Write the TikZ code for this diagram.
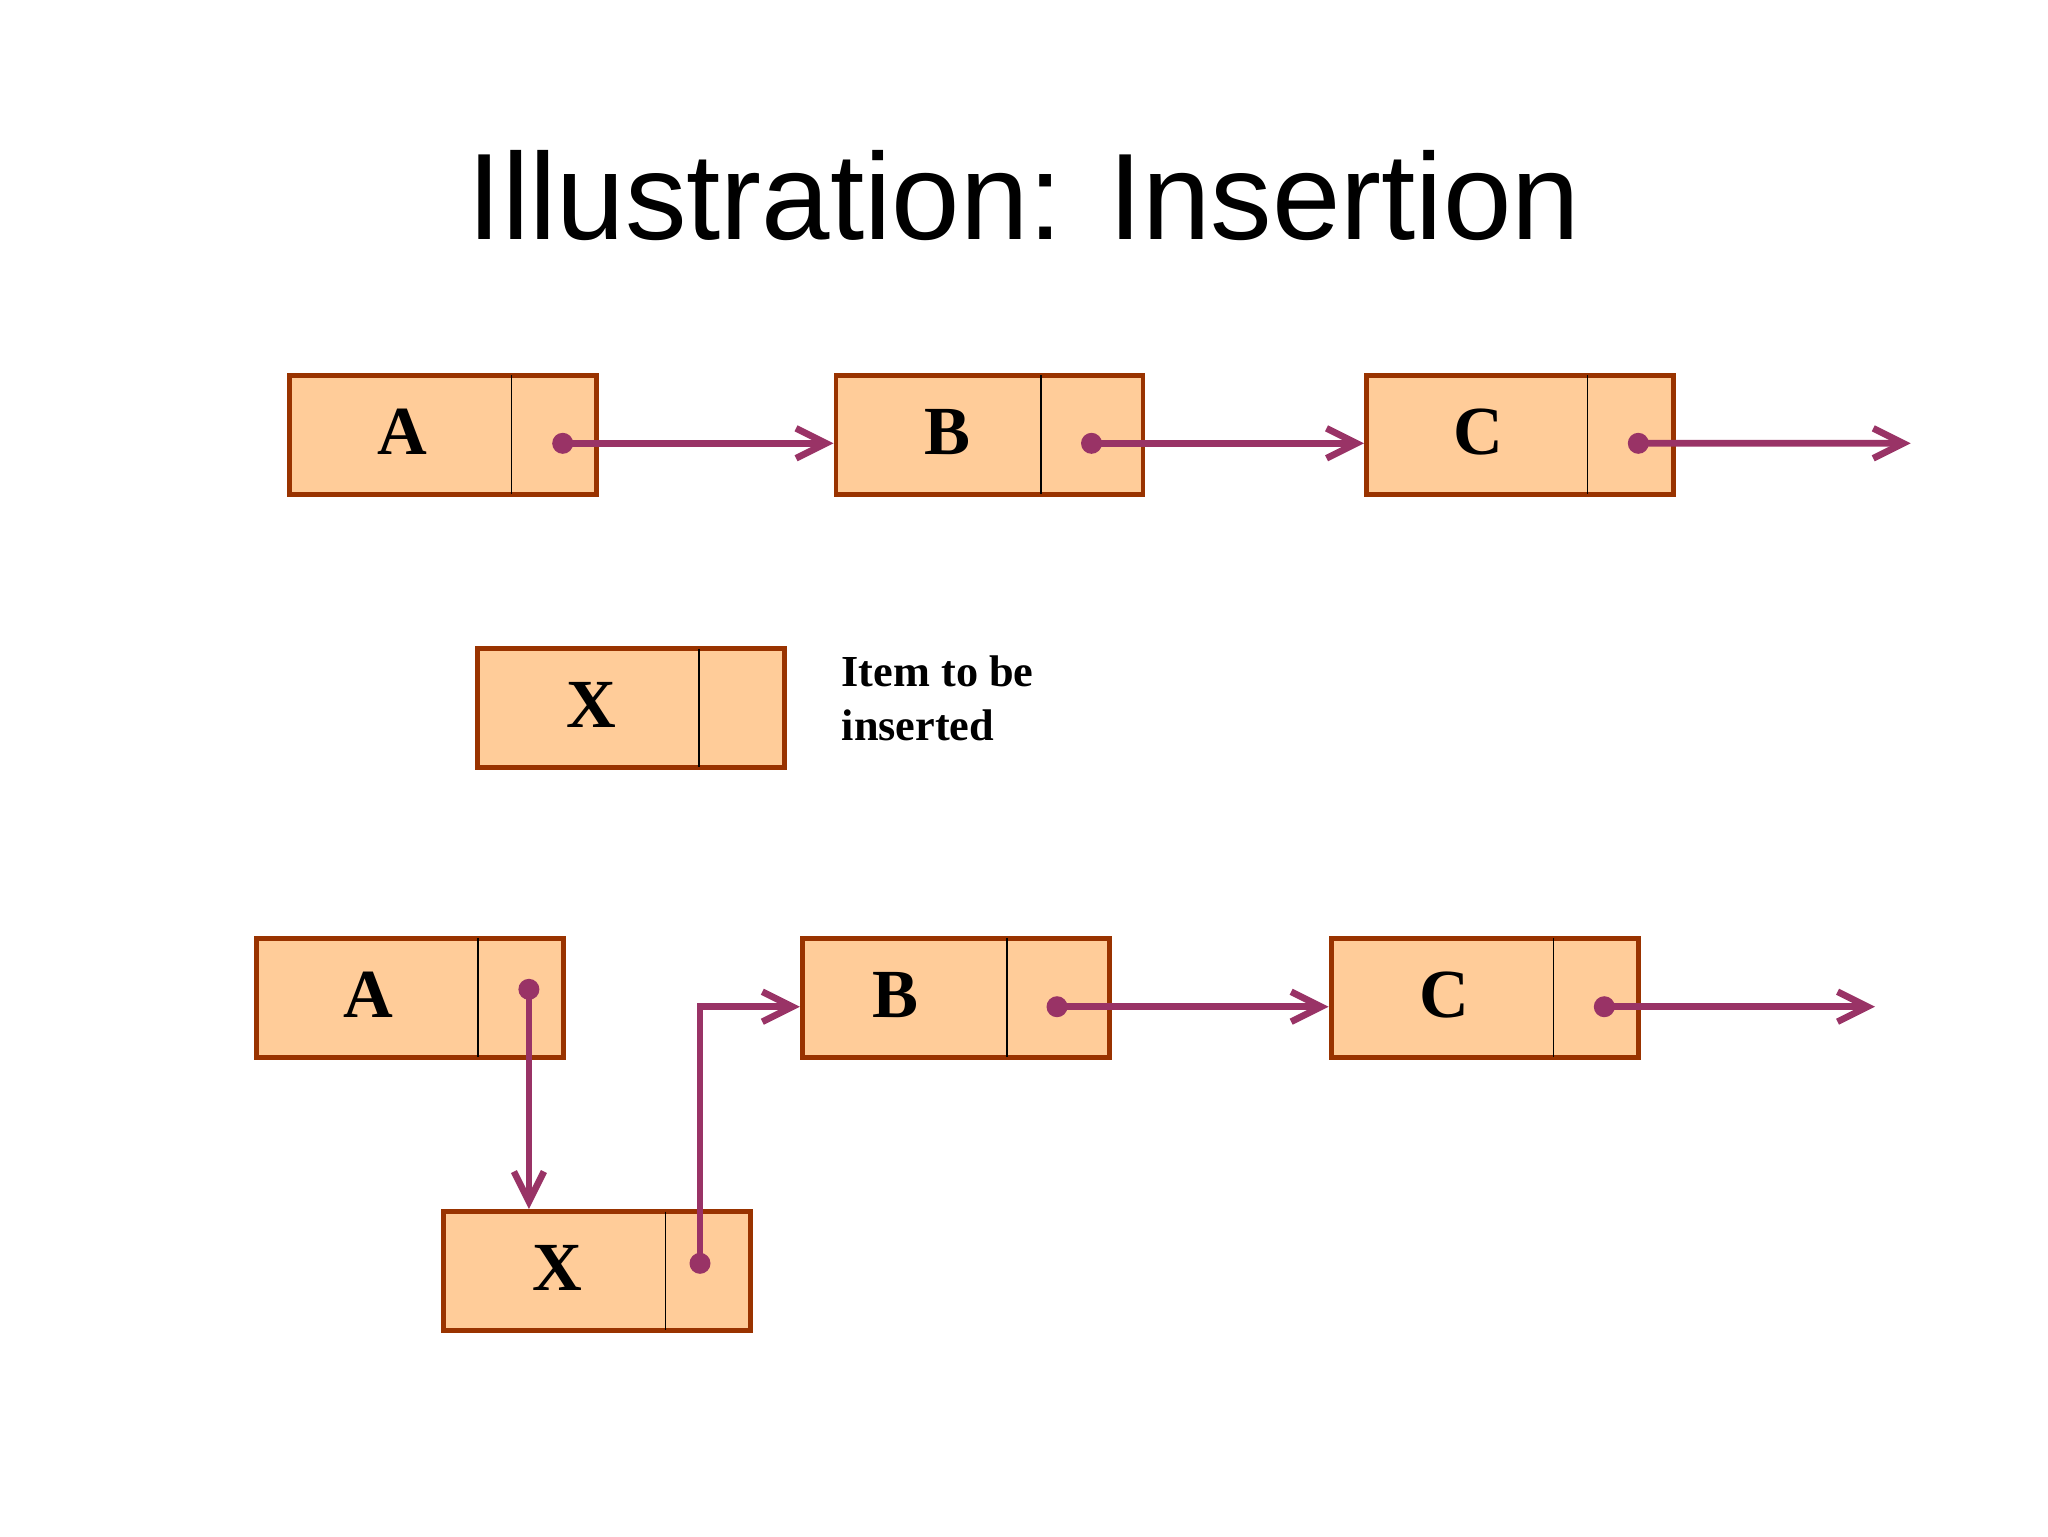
\documentclass[tikz,border=0pt]{standalone}
\usepackage{fontspec}
\setmainfont{Liberation Serif}
\newfontfamily\titlefont{Liberation Sans}
\usetikzlibrary{arrows.meta,calc}
\definecolor{nodefill}{HTML}{FFCC99}
\definecolor{nodeborder}{HTML}{993300}
\definecolor{linkcol}{HTML}{993366}
\newcommand\llcell[6]{%
  \node[cellbox] (#1) at (#2,#3) {};
  \draw[divider] ($(#1.north west)+(#5,2.5)$) -- ($(#1.south west)+(#5,-2.5)$);
  \node[letter] (#1l) at ($(#1.north west)+(#6,81.3)$) {#4};
}
\begin{document}
\begin{tikzpicture}[x=0.1mm,y=-0.1mm,
  cellbox/.style={draw=nodeborder,fill=nodefill,line width=1.4pt,
    minimum width=30.7mm,minimum height=11.9mm,inner sep=0pt,anchor=north west},
  letter/.style={font=\bfseries\fontsize{19.6}{22}\selectfont,anchor=base,inner sep=0pt},
  divider/.style={line width=0.45pt,black},
  dotnode/.style={circle,fill=linkcol,minimum size=2.1mm,inner sep=0pt},
  link/.style={linkcol,line width=1.9pt,-{Straight Barb[length=3mm,width=3mm]}},
  notetext/.style={font=\bfseries\fontsize{12.6}{15.1}\selectfont,align=left,anchor=base west,inner sep=0pt},
  titletext/.style={font=\titlefont\fontsize{35.0}{40}\selectfont,anchor=base,inner sep=0pt}
]
\useasboundingbox (0,0) rectangle (2048,1536);
\fill[white] (0,0) rectangle (2048,1536);

\node[titletext] (title) at (1024,239.3) {Illustration: Insertion};

\llcell{A1}{287.3}{372.7}{A}{224.4}{115}
\llcell{B1}{833.5}{372.7}{B}{207.5}{114}
\llcell{C1}{1364}{372.7}{C}{223.5}{114}
\llcell{X2}{475}{646}{X}{224}{116}
\llcell{A3}{253.7}{935.7}{A}{224.3}{115}
\llcell{B3}{799.8}{935.7}{B}{207.3}{96}
\llcell{C3}{1328.6}{935.7}{C}{225}{116}
\llcell{X3}{441.3}{1209}{X}{224.2}{116}

\node[notetext] (note) at (841,740) {Item to be\\inserted};

\node[dotnode] (A1d) at ($(A1.north west)+(275.4,70.6)$) {};
\node[dotnode] (B1d) at ($(B1.north west)+(258,70.6)$) {};
\node[dotnode] (C1d) at ($(C1.north west)+(274.3,70.6)$) {};
\node[dotnode] (A3d) at ($(A3.north west)+(275.2,53.6)$) {};
\node[dotnode] (B3d) at ($(B3.north west)+(257.2,71)$) {};
\node[dotnode] (C3d) at ($(C3.north west)+(275.7,71)$) {};
\node[dotnode] (X3d) at ($(X3.north west)+(258.7,54.3)$) {};

\coordinate (C1e) at (1910.7,443.3);
\coordinate (C3e) at (1875,1006.7);

\draw[link] (A1d.center) -- (A1d.center -| B1.west);
\draw[link] (B1d.center) -- (B1d.center -| C1.west);
\draw[link] (C1d.center) -- (C1e);
\draw[link] (A3d.center) -- (A3d.center |- X3.north);
\draw[link] (X3d.center) |- (B3d.center -| B3.west);
\draw[link] (B3d.center) -- (B3d.center -| C3.west);
\draw[link] (C3d.center) -- (C3e);
\end{tikzpicture}
\end{document}
